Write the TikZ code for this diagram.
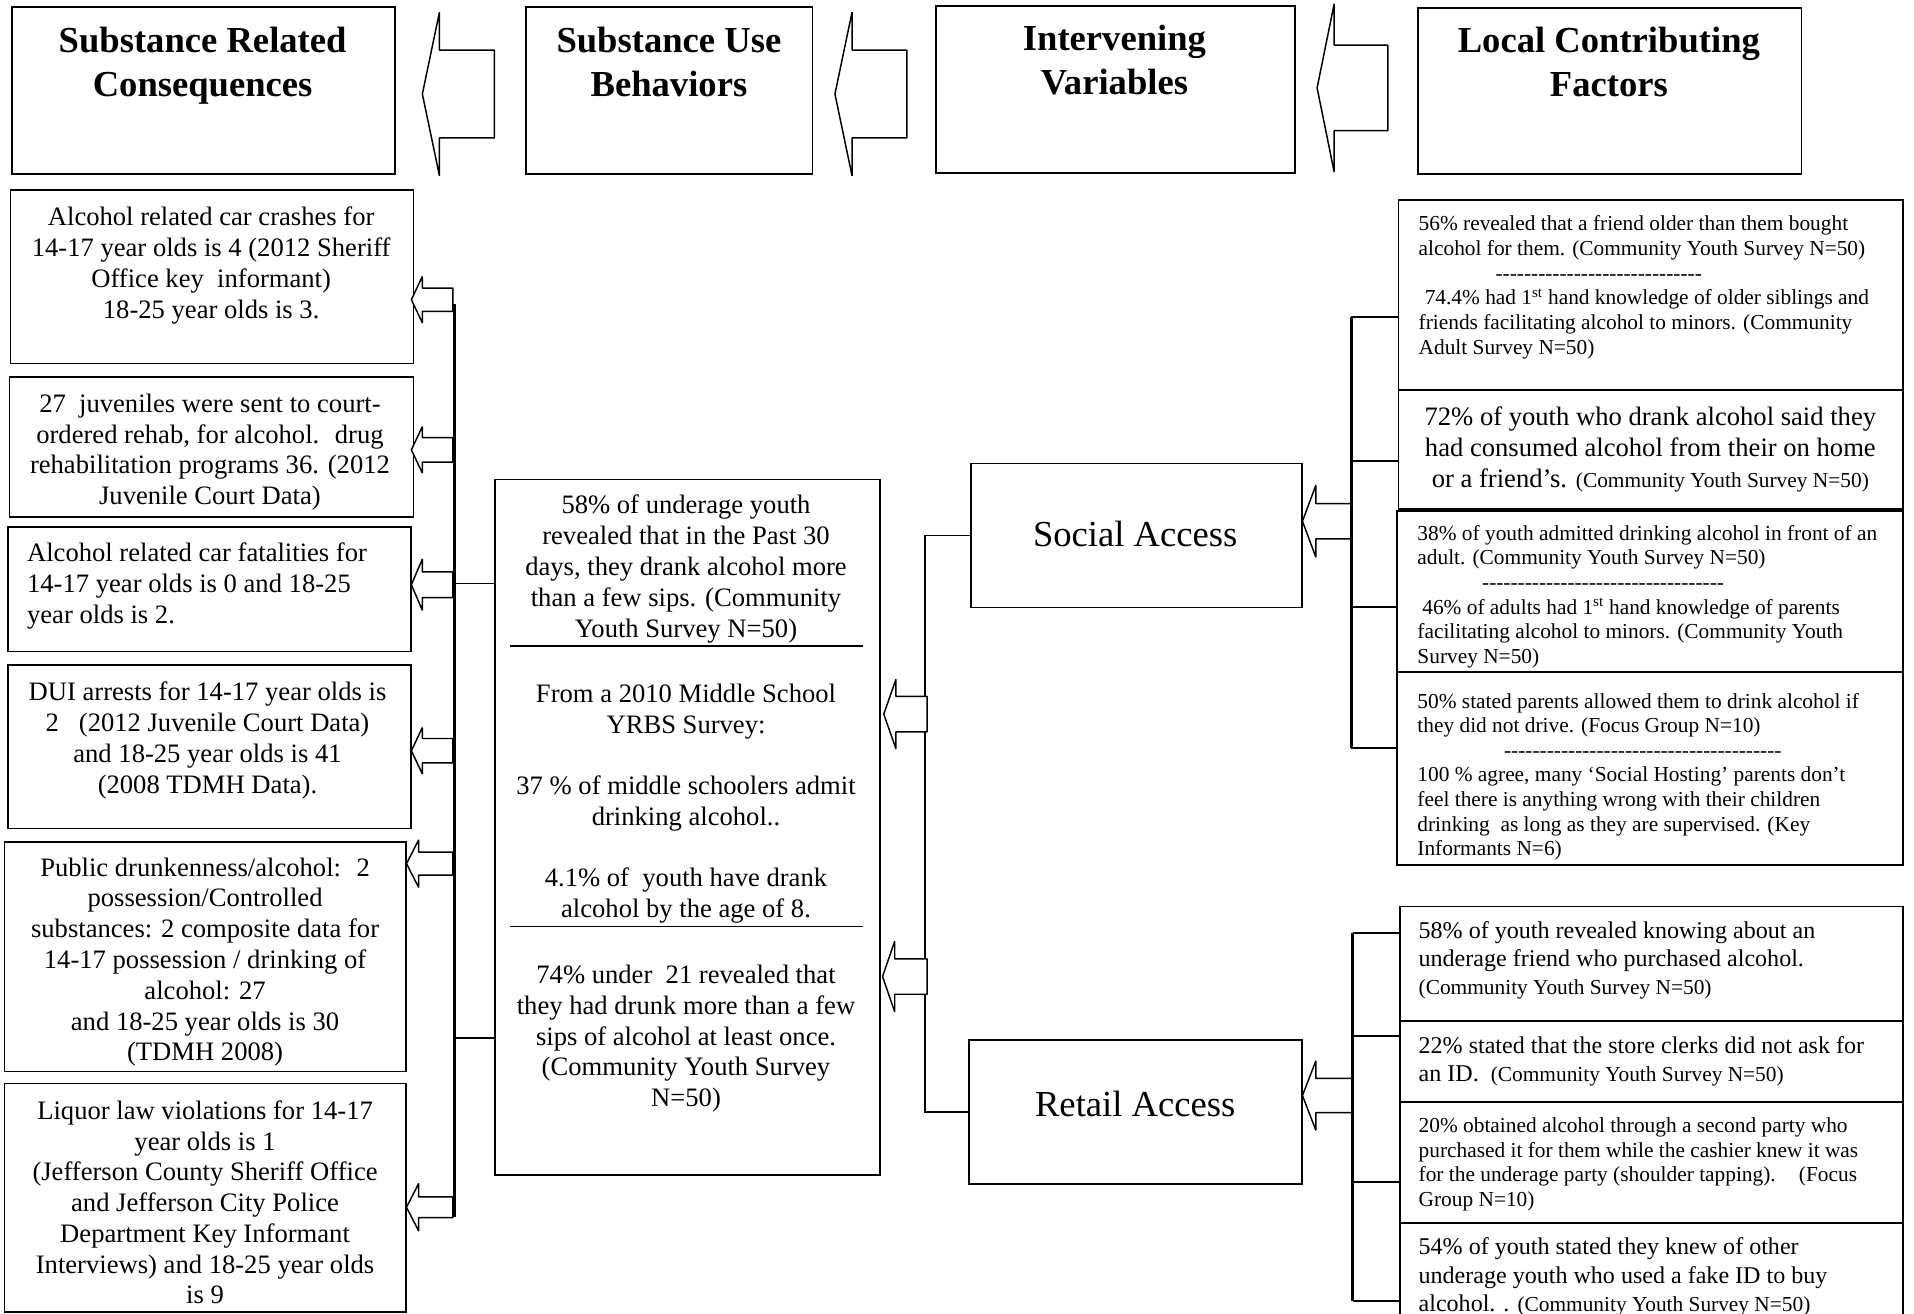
\documentclass[tikz,border=0pt]{standalone}
\usepackage{fontspec}
\setmainfont{Liberation Serif}
\usetikzlibrary{calc}
\newcommand\dashrow[1]{\foreach\dd in {1,...,#1}{-\kern0pt}}
\newcommand\blockL[6]{%
  \draw[arrowshape] (#1,#2) -- (#3,{#2-#5}) -- (#3,{#2-#6}) -- (#4,{#2-#6}) -- (#4,{#2+#6}) -- (#3,{#2+#6}) -- (#3,{#2+#5}) -- cycle;}
\newcommand\fbig{\fontsize{21.8}{25.2}\selectfont}
\newcommand\fmid{\fontsize{19.7}{23}\selectfont}
\newcommand\fsmall{\fontsize{17.5}{20.2}\selectfont}
\tikzset{
  box/.style={draw, line width=1.4pt, inner sep=0pt, anchor=north west},
  head/.style={inner sep=0pt, anchor=north, align=center, font=\fontsize{30}{36}\selectfont\bfseries},
  ltxt/.style={inner sep=0pt, anchor=north, align=center, font=\fbig},
  ltxtl/.style={inner sep=0pt, anchor=north west, align=left, font=\fbig},
  stxt/.style={inner sep=0pt, anchor=north west, align=left, font=\fsmall},
  mtxt/.style={inner sep=0pt, anchor=north west, align=left, font=\fmid},
  ivtxt/.style={inner sep=0pt, anchor=center, font=\fontsize{30}{36}\selectfont},
  conn/.style={line width=1.6pt},
  bus/.style={line width=2.2pt},
  sep/.style={line width=1.4pt},
  arrowshape/.style={draw, fill=white, line width=1.2pt, line join=bevel}
}
\begin{document}
\begin{tikzpicture}[x=1pt,y=-1pt]
\path[use as bounding box, fill=white] (0,0) rectangle (1568,1076);

% ---------- header row ----------
\node[box, minimum width=314, minimum height=137] (H1) at (9,5) {};
\node[box, minimum width=235, minimum height=137] (H2) at (430,5) {};
\node[box, minimum width=294, minimum height=137] (H3) at (766,4) {};
\node[box, minimum width=314, minimum height=136] (H4) at (1161,6) {};
\node[head] (H1t) at (166,22) {Substance Related\\Consequences};
\node[head] (H2t) at (548,22) {Substance Use\\Behaviors};
\node[head] (H3t) at (913,20) {Intervening\\Variables};
\node[head] (H4t) at (1318,22) {Local Contributing\\Factors};
\blockL{346}{77}{360}{405}{67}{36}
\blockL{684}{77}{698}{743}{67}{36}
\blockL{1079}{72}{1093}{1137}{69}{35}

% ---------- left column (consequences) ----------
\node[box, minimum width=330, minimum height=142] (L1) at (8,155) {};
\node[box, minimum width=331, minimum height=115] (L2) at (7,308) {};
\node[box, minimum width=330, minimum height=102] (L3) at (6,431) {};
\node[box, minimum width=330, minimum height=134] (L4) at (6,544) {};
\node[box, minimum width=329, minimum height=188] (L5) at (3,689) {};
\node[box, minimum width=329, minimum height=187] (L6) at (3,887) {};
\node[ltxt] (L1t) at (173,169.5) {Alcohol related car crashes for\\14-17 year olds is 4 (2012 Sheriff\\Office key~ informant)\\18-25 year olds is 3.};
\node[ltxt] (L2t) at (172,322.5) {27~ juveniles were sent to court-\\ordered rehab, for alcohol.~ drug\\rehabilitation programs 36. (2012\\Juvenile Court Data)};
\node[ltxtl] (L3t) at (22,444.5) {Alcohol related car fatalities for\\14-17 year olds is 0 and 18-25\\year olds is 2.};
\node[ltxt] (L4t) at (170,558.5) {DUI arrests for 14-17 year olds is\\2~~ (2012 Juvenile Court Data)\\and 18-25 year olds is 41\\(2008 TDMH Data).};
\node[ltxt] (L5t) at (168,702.5) {Public drunkenness/alcohol:~ 2\\possession/Controlled\\substances: 2 composite data for\\14-17 possession / drinking of\\alcohol: 27\\and 18-25 year olds is 30\\(TDMH 2008)};
\node[ltxt] (L6t) at (168,901.5) {Liquor law violations for 14-17\\year olds is 1\\(Jefferson County Sheriff Office\\and Jefferson City Police\\Department Key Informant\\Interviews) and 18-25 year olds\\is 9};

% ---------- centre column (behaviours) ----------
\node[box, minimum width=315, minimum height=570] (C) at (405,392) {};
\node[ltxt] (C1t) at (562,405.5) {58\% of underage youth\\revealed that in the Past 30\\days, they drank alcohol more\\than a few sips. (Community\\Youth Survey N=50)};
\draw[sep] (418,529) -- (707,529);
\node[ltxt] (C2t) at (562,560.5) {From a 2010 Middle School\\YRBS Survey:\\[25pt]37 \% of middle schoolers admit\\drinking alcohol..\\[25pt]4.1\% of~ youth have drank\\alcohol by the age of 8.};
\draw[sep] (418,759) -- (707,759);
\node[ltxt] (C3t) at (562,790.5) {74\% under~ 21 revealed that\\they had drunk more than a few\\sips of alcohol at least once.\\(Community Youth Survey\\N=50)};

% ---------- intervening variables ----------
\node[box, minimum width=271, minimum height=118] (S) at (795,379) {};
\node[box, minimum width=273, minimum height=118] (Rt) at (793,851) {};
\node[ivtxt] (St) at (930,437.5) {Social Access};
\node[ivtxt] (Rtt) at (930,904.5) {Retail Access};

% ---------- local contributing factors ----------
\node[box, minimum width=413, minimum height=156] (R1) at (1145,163) {};
\node[box, minimum width=413, minimum height=97] (R2) at (1145,319) {};
\node[box, minimum width=414, minimum height=132] (R3) at (1144,418) {};
\node[box, minimum width=414, minimum height=158] (R4) at (1144,550) {};
\node[box, minimum width=412, minimum height=94] (R5) at (1146,742) {};
\node[box, minimum width=412, minimum height=66] (R6) at (1146,836) {};
\node[box, minimum width=412, minimum height=99] (R7) at (1146,902) {};
\node[box, minimum width=412, minimum height=90] (R8) at (1146,1001) {};

\node[stxt] (R1t) at (1162,176.5) {56\% revealed that a friend older than them bought\\alcohol for them. (Community Youth Survey N=50)\\\hspace*{63pt}\dashrow{29}\\\hspace*{5pt}74.4\% had 1\textsuperscript{st} hand knowledge of older siblings and\\friends facilitating alcohol to minors. (Community\\Adult Survey N=50)};
\node[inner sep=0pt, anchor=north, align=center, font=\fontsize{21.8}{25.5}\selectfont] (R2t) at (1352,333) {72\% of youth who drank alcohol said they\\had consumed alcohol from their on home\\or a friend’s. {\fsmall (Community Youth Survey N=50)}};
\node[stxt] (R3t) at (1161,430) {38\% of youth admitted drinking alcohol in front of an\\adult. (Community Youth Survey N=50)\\\hspace*{53pt}\dashrow{34}\\\hspace*{4pt}46\% of adults had 1\textsuperscript{st} hand knowledge of parents\\facilitating alcohol to minors. (Community Youth\\Survey N=50)};
\node[stxt] (R4t) at (1161,567.5) {50\% stated parents allowed them to drink alcohol if\\they did not drive. (Focus Group N=10)\\\hspace*{71pt}\dashrow{39}\\100 \% agree, many ‘Social Hosting’ parents don’t\\feel there is anything wrong with their children\\drinking~ as long as they are supervised. (Key\\Informants N=6)};
\node[mtxt] (R5t) at (1162,755) {58\% of youth revealed knowing about an\\underage friend who purchased alcohol.\\{\fsmall (Community Youth Survey N=50)}};
\node[mtxt] (R6t) at (1162,849) {22\% stated that the store clerks did not ask for\\an ID.~ {\fsmall (Community Youth Survey N=50)}};
\node[stxt] (R7t) at (1162,915.5) {20\% obtained alcohol through a second party who\\purchased it for them while the cashier knew it was\\for the underage party (shoulder tapping).~~~ (Focus\\Group N=10)};
\node[mtxt] (R8t) at (1162,1014) {54\% of youth stated they knew of other\\underage youth who used a fake ID to buy\\alcohol. . {\fsmall (Community Youth Survey N=50)}};

% ---------- connectors: left bus ----------
\blockL{337}{245.5}{346}{371}{19}{9.5}
\blockL{337}{368.5}{346}{371}{19}{10}
\blockL{337}{479}{346}{371}{21}{10.5}
\blockL{337}{615}{346}{371}{19}{10}
\blockL{333}{707.5}{343}{371}{19.5}{9.5}
\blockL{333}{989}{343}{371}{19.5}{8.5}
\coordinate (lbTop) at (372.5,249);
\coordinate (lbBot) at (372.5,997);
\draw[bus] (lbTop) -- (lbBot);
\coordinate (lc1) at (372.5,478);
\coordinate (lc2) at (372.5,850);
\draw[conn] (lc1) -- (lc1 -| C.west);
\draw[conn] (lc2) -- (lc2 -| C.west);

% ---------- connectors: centre bus ----------
\draw[conn] (S.west) -- ++(-37,0) |- (Rt.west);
\blockL{724}{585}{734}{759.5}{28.5}{14.5}
\blockL{723}{800}{733}{759.5}{29}{14.5}

% ---------- connectors: social group ----------
\coordinate (sb1) at (1107,260);
\coordinate (sb2) at (1107,378);
\coordinate (sb3) at (1107,497);
\coordinate (sb4) at (1107,613);
\blockL{1067}{427}{1078}{1107}{29.5}{14.5}
\draw[bus] (sb1) -- (sb4);
\draw[conn] (sb1) -- (sb1 -| R1.west);
\draw[conn] (sb2) -- (sb2 -| R2.west);
\draw[conn] (sb3) -- (sb3 -| R3.west);
\draw[conn] (sb4) -- (sb4 -| R4.west);

% ---------- connectors: retail group ----------
\coordinate (rb1) at (1108,764);
\coordinate (rb2) at (1108,849);
\coordinate (rb3) at (1108,968);
\coordinate (rb4) at (1108,1066);
\blockL{1067}{897.5}{1078}{1108}{28.5}{14}
\draw[bus] (rb1) -- (rb4);
\draw[conn] (rb1) -- (rb1 -| R5.west);
\draw[conn] (rb2) -- (rb2 -| R6.west);
\draw[conn] (rb3) -- (rb3 -| R7.west);
\draw[conn] (rb4) -- (rb4 -| R8.west);
\end{tikzpicture}
\end{document}
